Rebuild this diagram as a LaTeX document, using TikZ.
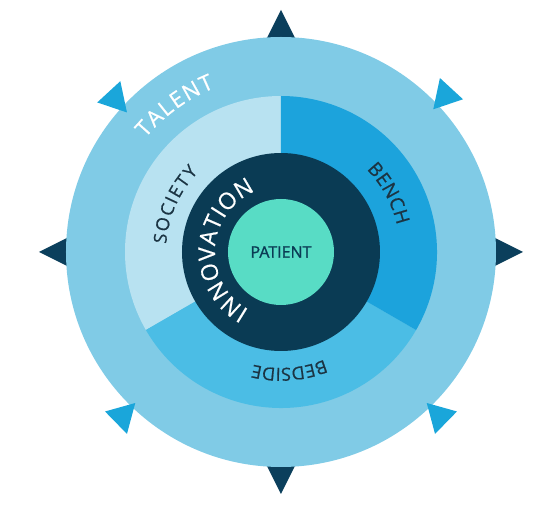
\documentclass[tikz,border=0pt]{standalone}
\usepackage{fontspec}
\setmainfont{Open Sans}
\newfontfamily\patientfont[FakeBold=1.2]{Open Sans}
\newfontfamily\ringfont[FakeBold=0.6]{Open Sans}
\usetikzlibrary{decorations.text}

\definecolor{talentblue}{HTML}{80CBE6}
\definecolor{societyblue}{HTML}{B8E2F1}
\definecolor{benchblue}{HTML}{1CA3DC}
\definecolor{bedsideblue}{HTML}{4BBDE5}
\definecolor{innonavy}{HTML}{0A3B54}
\definecolor{patientgreen}{HTML}{58DCC5}
\definecolor{arrownavy}{HTML}{0B3F5C}
\definecolor{arrowblue}{HTML}{1AA6DA}
\definecolor{labeldark}{HTML}{1B3443}

\tikzset{
  ringtext/.style={decorate, decoration={text along path, text align=fit to path}},
  outarrow/.style={fill=arrowblue},
}

\begin{document}
\begin{tikzpicture}[ x=1pt, y=1pt ]

\useasboundingbox (-281,-253) rectangle (279,252);

\foreach \a in {0,90,180,270}
  \fill[arrownavy, rotate=\a] (212,-15) -- (242,0) -- (212,15) -- cycle;

\fill[talentblue] (0,0) circle (215);

\fill[societyblue] (0,0) -- (90:156) arc[start angle=90, end angle=210, radius=156] -- cycle;
\fill[bedsideblue] (0,0) -- (210:156) arc[start angle=210, end angle=330, radius=156] -- cycle;
\fill[benchblue] (0,0) -- (-30:156) arc[start angle=-30, end angle=90, radius=156] -- cycle;

\fill[innonavy] (0,0) circle (99);
\node[circle, fill=patientgreen, minimum size=106pt, inner sep=0pt, text=innonavy,
      font=\patientfont\fontsize{16}{18}\selectfont] (patient) at (0,0) {PATIENT};

\fill[outarrow, shift={(135.4:221)}, rotate=192] (0,-16) -- (27,0) -- (0,16) -- cycle;
\fill[outarrow, shift={(45.5:222)}, rotate=-12] (0,-16) -- (27,0) -- (0,16) -- cycle;
\fill[outarrow, shift={(228:224)}, rotate=165] (0,-16) -- (27,0) -- (0,16) -- cycle;
\fill[outarrow, shift={(312:224)}, rotate=15] (0,-16) -- (27,0) -- (0,16) -- cycle;

\path[ringtext, decoration={text={|\ringfont\fontsize{22}{24}\selectfont\color{white}|TALENT}}]
  (140:177) arc[start angle=140, end angle=112, radius=177];
\path[ringtext, decoration={text={|\ringfont\fontsize{18}{20}\selectfont\color{labeldark}|SOCIETY}}]
  (176:115) arc[start angle=176, end angle=136, radius=115];
\path[ringtext, decoration={text={|\ringfont\fontsize{19}{21}\selectfont\color{labeldark}|BENCH}}]
  (44:119) arc[start angle=44, end angle=13, radius=119];
\path[ringtext, decoration={text={|\ringfont\fontsize{18}{20}\selectfont\color{labeldark}|BEDSIDE}}]
  (292:116) arc[start angle=292, end angle=257, radius=116];
\path[ringtext, decoration={text={|\ringfont\fontsize{23}{25}\selectfont\color{white}|INNOVATION}}]
  (241:66) arc[start angle=241, end angle=113, radius=66];

\end{tikzpicture}
\end{document}
